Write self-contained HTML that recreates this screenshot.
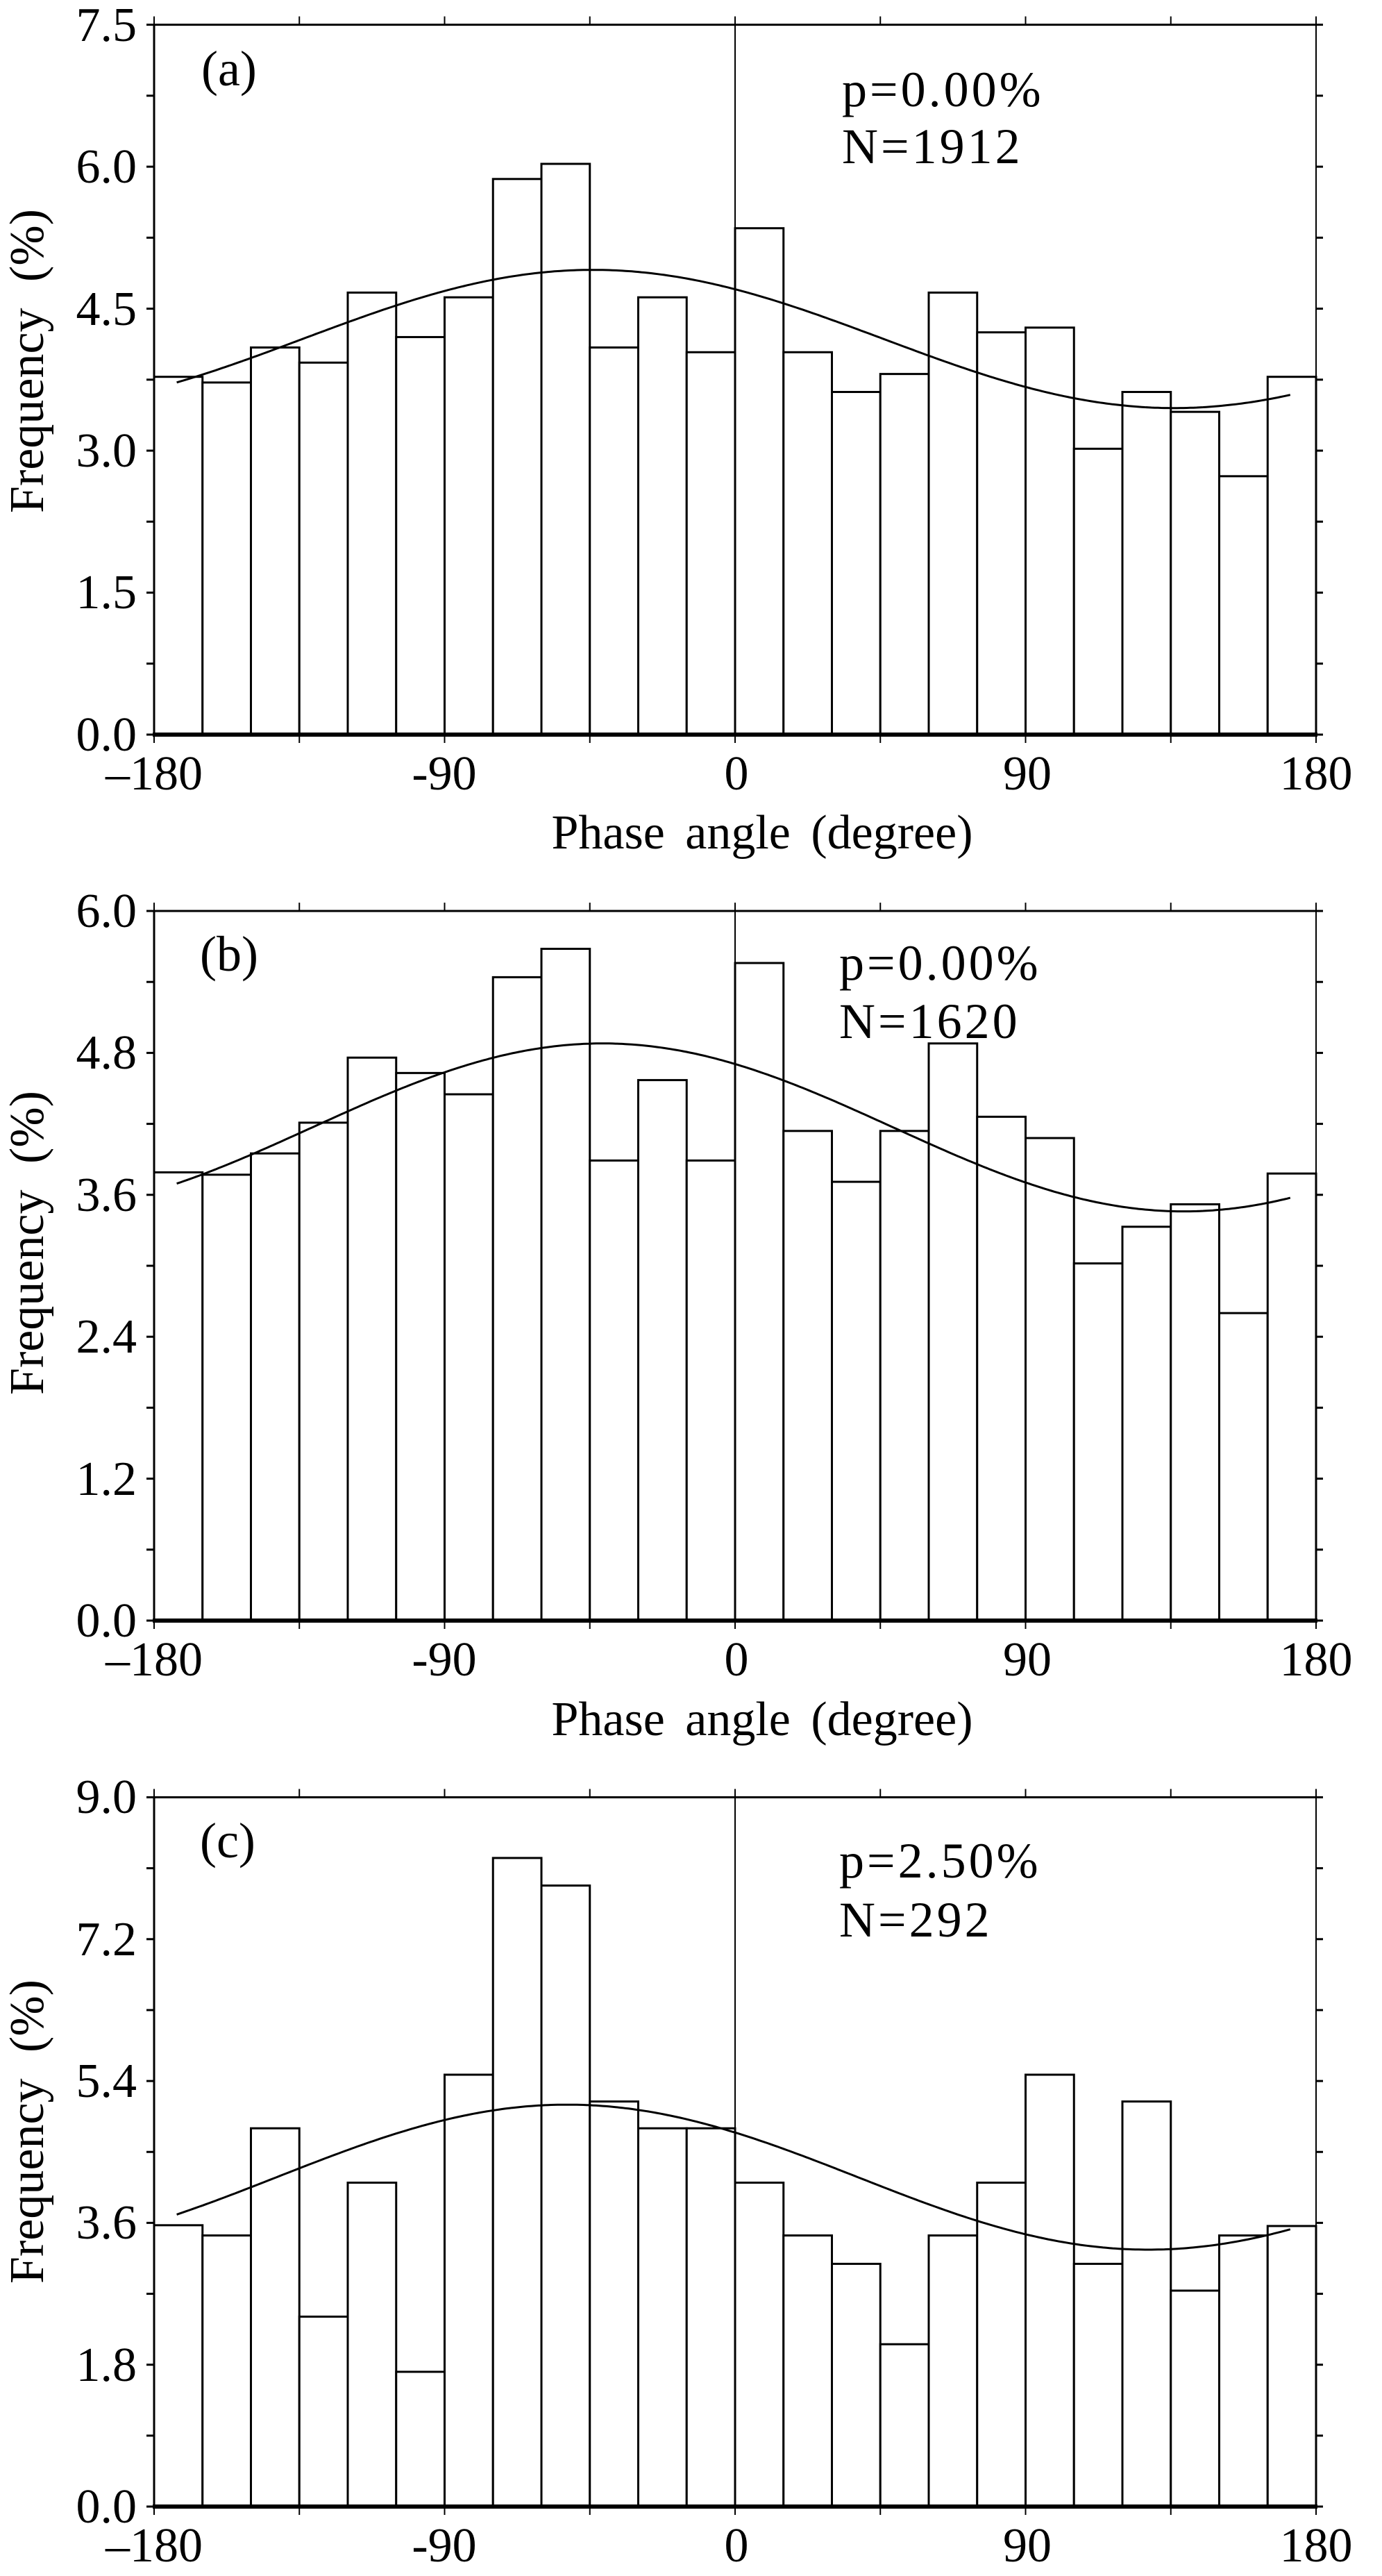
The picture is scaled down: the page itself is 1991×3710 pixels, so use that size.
<!DOCTYPE html>
<html><head><meta charset="utf-8"><style>
html,body{margin:0;padding:0;background:#fff;}
svg{display:block;}
text{font-family:"Liberation Serif",serif;fill:#000;}
</style></head><body>
<svg id="s" width="1991" height="3710" viewBox="0 0 1991 3710" xmlns="http://www.w3.org/2000/svg">
<rect width="1991" height="3710" fill="#fff"/>
<g id="plots"></g>
<g font-size="70" text-anchor="end">
<text x="197" y="1081">0.0</text><text x="197" y="876">1.5</text><text x="197" y="672">3.0</text><text x="197" y="468">4.5</text><text x="197" y="263">6.0</text><text x="197" y="59">7.5</text>
<text x="197" y="2357">0.0</text><text x="197" y="2153">1.2</text><text x="197" y="1948">2.4</text><text x="197" y="1744">3.6</text><text x="197" y="1539">4.8</text><text x="197" y="1335">6.0</text>
<text x="197" y="3633">0.0</text><text x="197" y="3429">1.8</text><text x="197" y="3224">3.6</text><text x="197" y="3020">5.4</text><text x="197" y="2816">7.2</text><text x="197" y="2611">9.0</text>
</g>
<g font-size="70" text-anchor="middle">
<text x="222" y="1137">–180</text><text x="640" y="1137">-90</text><text x="1061" y="1137">0</text><text x="1480" y="1137">90</text><text x="1896" y="1137">180</text>
<text x="222" y="2413">–180</text><text x="640" y="2413">-90</text><text x="1061" y="2413">0</text><text x="1480" y="2413">90</text><text x="1896" y="2413">180</text>
<text x="222" y="3689">–180</text><text x="640" y="3689">-90</text><text x="1061" y="3689">0</text><text x="1480" y="3689">90</text><text x="1896" y="3689">180</text>
<text x="1098" y="1222" word-spacing="12">Phase angle (degree)</text>
<text x="1098" y="2499" word-spacing="12">Phase angle (degree)</text>
<text transform="translate(62,520) rotate(-90)" word-spacing="20">Frequency (%)</text>
<text transform="translate(62,1790) rotate(-90)" word-spacing="20">Frequency (%)</text>
<text transform="translate(62,3070) rotate(-90)" word-spacing="20">Frequency (%)</text>
</g>
<g font-size="72">
<text x="290" y="123">(a)</text>
<text x="288" y="1398">(b)</text>
<text x="288" y="2675">(c)</text>
<text x="1213" y="153" letter-spacing="4">p=0.00%</text>
<text x="1213" y="235" letter-spacing="4">N=1912</text>
<text x="1209" y="1411" letter-spacing="4">p=0.00%</text>
<text x="1209" y="1495" letter-spacing="4">N=1620</text>
<text x="1209" y="2704" letter-spacing="4">p=2.50%</text>
<text x="1209" y="2789" letter-spacing="4">N=292</text>
</g>
</svg>
<script>
(function(){
var NS="http://www.w3.org/2000/svg",g=document.getElementById("plots");
function el(n,a){var e=document.createElementNS(NS,n);for(var k in a)e.setAttribute(k,a[k]);g.appendChild(e);return e;}
var L=222,R=1896,W=(R-L)/24;
var panels=[
{top:35.6,bot:1058,max:7.5,minor:0.75,m:4.18,A:0.73,p:-44,
v:[3.78,3.72,4.09,3.93,4.67,4.20,4.62,5.87,6.03,4.09,4.62,4.04,5.35,4.04,3.62,3.81,4.67,4.25,4.30,3.02,3.62,3.41,2.73,3.78]},
{top:1312,bot:2334,max:6.0,minor:0.6,m:4.17,A:0.71,p:-41,
v:[3.79,3.77,3.95,4.21,4.76,4.63,4.45,5.44,5.68,3.89,4.57,3.89,5.56,4.14,3.71,4.14,4.88,4.26,4.08,3.02,3.33,3.52,2.60,3.78]},
{top:2588.5,bot:3610,max:9.0,minor:0.9,m:4.18,A:0.92,p:-52,
v:[3.57,3.44,4.80,2.41,4.11,1.71,5.48,8.23,7.88,5.14,4.80,4.80,4.11,3.44,3.08,2.06,3.44,4.11,5.48,3.08,5.14,2.74,3.44,3.56]}
];
panels.forEach(function(P){
 var s=(P.bot-P.top)/P.max;
 function Y(v){return P.bot-v*s;}
 function X(d){return L+(d+180)*(R-L)/360;}
 P.v.forEach(function(v,i){
  el("rect",{x:L+i*W,y:Y(v),width:W,height:v*s,fill:"#fff",stroke:"#000","stroke-width":3});
 });
 el("line",{x1:X(0),y1:P.top,x2:X(0),y2:P.bot,stroke:"#000","stroke-width":2});
 var d="";
 for(var a=-173;a<=172;a+=1){var v=P.m+P.A*Math.cos((a-P.p)*Math.PI/180);d+=(a==-173?"M":"L")+X(a).toFixed(1)+" "+Y(v).toFixed(1);}
 el("path",{d:d,fill:"none",stroke:"#000","stroke-width":3});
 // frame
 el("line",{x1:L,y1:P.top,x2:R,y2:P.top,stroke:"#000","stroke-width":3});
 el("line",{x1:L,y1:P.top,x2:L,y2:P.bot,stroke:"#000","stroke-width":3});
 el("line",{x1:R,y1:P.top,x2:R,y2:P.bot,stroke:"#000","stroke-width":2});
 el("line",{x1:L-2,y1:P.bot,x2:R+2,y2:P.bot,stroke:"#000","stroke-width":6});
 // y ticks
 for(var t=0;t<=P.max+1e-6;t+=P.minor){var y=Y(t);
  el("line",{x1:L-11,y1:y,x2:L,y2:y,stroke:"#000","stroke-width":3});
  el("line",{x1:R,y1:y,x2:R+10,y2:y,stroke:"#000","stroke-width":3});}
 // x ticks
 for(var d2=-180;d2<=180;d2+=45){var x=X(d2);
  el("line",{x1:x,y1:P.top-12,x2:x,y2:P.top,stroke:"#000","stroke-width":2});
  el("line",{x1:x,y1:P.bot,x2:x,y2:P.bot+12,stroke:"#000","stroke-width":2});}
});
})();
</script>
</body></html>
